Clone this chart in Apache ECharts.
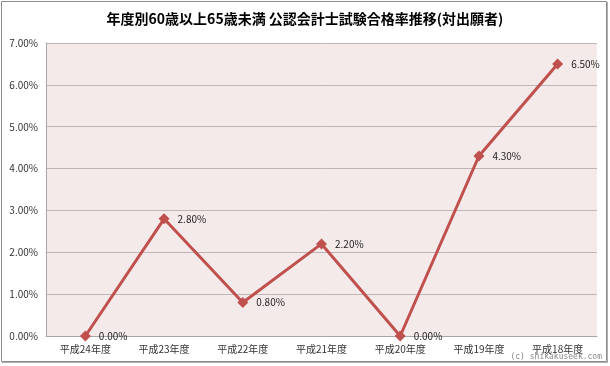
<!DOCTYPE html>
<html><head><meta charset="utf-8">
<script src="https://cdn.jsdelivr.net/npm/echarts@6/dist/echarts.min.js"></script>
<style>html,body{margin:0;padding:0;background:#fff}#c{width:610px;height:366px}</style>
</head><body><div id="c"></div>
<script>
const titleText = '年度別60歳以上65歳未満 公認会計士試験合格率推移(対出願者)';
const categories = ['平成24年度','平成23年度','平成22年度','平成21年度','平成20年度','平成19年度','平成18年度'];
const passRates = [0.00, 2.80, 0.80, 2.20, 0.00, 4.30, 6.50];
const yTicks = [0,1,2,3,4,5,6,7];
const watermark = '(c) shikakuseek.com';

const chart = echarts.init(document.getElementById('c'), null, {renderer:'canvas'});
const font = '"Noto Sans CJK JP","Noto Sans",sans-serif';
chart.setOption({
  animation:false,
  backgroundColor:'#fff',
  title:{text:titleText,left:'center',top:7,textStyle:{fontFamily:font,fontSize:14,fontWeight:'bold',color:'#000'}},
  graphic:[
    {type:'rect',shape:{x:1.5,y:1.5,width:605,height:360},style:{fill:'none',stroke:'#8c8c8c',lineWidth:1},silent:true},
    {type:'line',shape:{x1:2,y1:362.5,x2:608,y2:362.5},style:{stroke:'#b0b0b0',lineWidth:1}},
    {type:'line',shape:{x1:607.5,y1:2,x2:607.5,y2:363},style:{stroke:'#b0b0b0',lineWidth:1}},
    {type:'text',right:8,top:353,style:{text:watermark,font:'8px "DejaVu Sans Mono",monospace',fill:'#888'}}
  ],
  grid:{left:46,right:13,top:43,bottom:30,show:true,backgroundColor:'#F5EAEA',borderWidth:0,containLabel:false},
  xAxis:{type:'category',data:categories,boundaryGap:true,
    axisLine:{show:true,lineStyle:{color:'#A6A6A6'}},axisTick:{show:false},
    axisLabel:{fontFamily:font,fontSize:10,color:'#333',margin:8}},
  yAxis:{type:'value',min:yTicks[0],max:yTicks[yTicks.length-1],interval:1,
    axisLine:{show:true,lineStyle:{color:'#A6A6A6'}},axisTick:{show:false},
    splitLine:{lineStyle:{color:'#BFB5B5',width:1}},
    axisLabel:{fontFamily:font,fontSize:10,color:'#333',margin:8,formatter:v=>v.toFixed(2)+'%'}},
  series:[{type:'line',data:passRates,symbol:'diamond',symbolSize:11,
    lineStyle:{color:'#C0504D',width:3},itemStyle:{color:'#C0504D'},
    label:{show:true,position:'right',distance:8,fontFamily:font,fontSize:10,color:'#222',formatter:p=>p.value.toFixed(2)+'%'}}]
});
</script></body></html>
